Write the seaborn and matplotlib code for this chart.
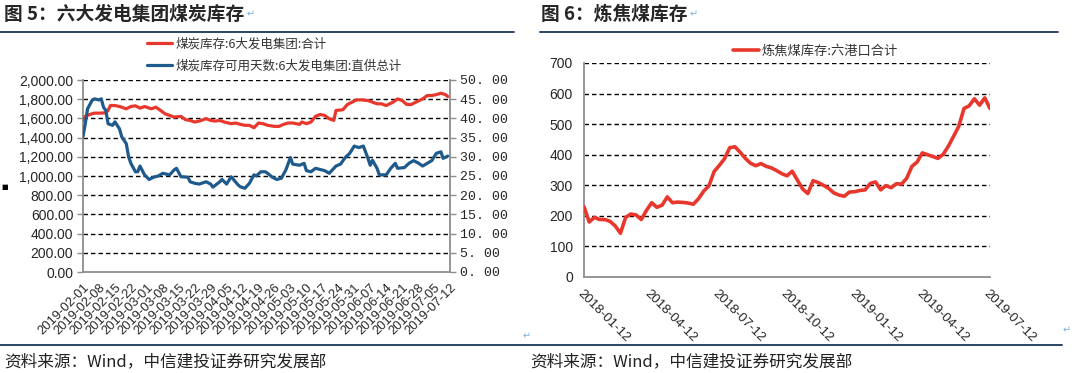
import numpy as np
import pandas as pd
import matplotlib
matplotlib.use("Agg")
import matplotlib.pyplot as plt
from matplotlib.lines import Line2D
import seaborn as sns

# ---------------- data ----------------
# Figure 5: six power groups, coal stock (10k t, left) and available days (right)
coal_start = "2019-02-01"
coal_end = "2019-07-12"
coal_day = [0, 1, 3, 5, 8, 10, 11, 12, 14, 16, 19, 21, 23, 25, 27, 30, 32, 34, 36, 38,
            40, 43, 45, 47, 49, 51, 54, 56, 58, 60, 62, 65, 67, 69, 71, 73, 75, 77, 79, 81,
            84, 86, 88, 90, 92, 95, 96, 98, 100, 102, 104, 106, 108, 110, 111, 114, 116, 118, 120, 122,
            125, 127, 129, 131, 133, 136, 138, 140, 142, 144, 146, 149, 151, 153, 155, 157, 159, 160]
coal_stock = [1579, 1621, 1641, 1655, 1655, 1659, 1683, 1734, 1734, 1724,
              1700, 1724, 1731, 1707, 1724, 1700, 1717, 1683, 1648, 1631,
              1614, 1621, 1586, 1579, 1562, 1572, 1597, 1579, 1572, 1579,
              1562, 1545, 1552, 1538, 1528, 1528, 1503, 1552, 1545, 1528,
              1517, 1517, 1538, 1552, 1552, 1538, 1562, 1545, 1562, 1621,
              1641, 1631, 1597, 1579, 1683, 1690, 1745, 1769, 1793, 1793,
              1786, 1769, 1752, 1752, 1734, 1769, 1803, 1786, 1745, 1745,
              1769, 1803, 1838, 1838, 1848, 1862, 1848, 1828]
days_day = [0, 1, 2, 4, 5, 7, 8, 9, 10, 11, 13, 14, 16, 17, 19, 20, 21, 23, 24, 25,
            27, 29, 31, 33, 35, 38, 40, 41, 43, 46, 47, 49, 51, 54, 56, 57, 60, 61, 63, 65,
            68, 69, 71, 73, 75, 76, 78, 80, 81, 83, 85, 87, 89, 91, 92, 95, 97, 98, 100, 102,
            104, 106, 108, 111, 113, 115, 117, 119, 121, 123, 125, 126, 127, 129, 130, 133, 135, 137, 138, 141,
            143, 145, 147, 149, 151, 153, 155, 157, 158, 160]
days_avail = [35.3, 38.6, 42.5, 44.7, 45.1, 44.8, 45.1, 42.9, 42.1, 38.6, 38.2, 39.1, 37.3, 35.2, 33.4, 30.0, 28.3, 26.1, 26.1, 27.6,
              25.3, 24.1, 24.7, 25.0, 25.7, 25.3, 26.6, 27.0, 24.8, 24.7, 23.5, 23.1, 22.9, 23.5, 22.9, 22.1, 23.5, 24.1, 22.9, 24.8,
              22.7, 22.2, 21.8, 23.1, 25.3, 25.0, 26.1, 26.1, 25.7, 24.7, 24.1, 24.4, 26.6, 29.8, 28.1, 27.8, 28.3, 26.4, 26.1, 27.0,
              26.7, 26.4, 25.7, 27.6, 28.1, 29.8, 30.9, 32.8, 32.4, 32.8, 29.6, 27.8, 29.1, 27.0, 25.3, 25.3, 27.0, 28.3, 27.0, 27.2,
              28.3, 29.0, 28.4, 27.6, 28.3, 29.0, 30.9, 31.3, 29.6, 30.2]
coal_label = "煤炭库存:6大发电集团:合计"
days_label = "煤炭库存可用天数:6大发电集团:直供总计"
coal_yticks = [0, 200, 400, 600, 800, 1000, 1200, 1400, 1600, 1800, 2000]
days_yticks = [0, 5, 10, 15, 20, 25, 30, 35, 40, 45, 50]

# Figure 6: coking coal stock at six ports (weekly)
coking_start = "2018-01-12"
coking_stock = [230, 180, 195, 188, 188, 182, 167, 143, 195, 206,
                203, 188, 218, 243, 228, 235, 262, 243, 245, 244,
                242, 238, 256, 281, 298, 345, 365, 387, 423, 426,
                408, 388, 372, 364, 371, 362, 357, 348, 338, 331,
                346, 317, 288, 273, 315, 309, 300, 290, 275, 268,
                264, 278, 279, 283, 285, 306, 311, 285, 299, 292,
                305, 304, 323, 362, 376, 406, 400, 394, 388, 401,
                428, 460, 493, 551, 560, 583, 562, 586, 551]
coking_label = "炼焦煤库存:六港口合计"
coking_xticks = ["2018-01-12", "2018-04-12", "2018-07-12", "2018-10-12",
                 "2019-01-12", "2019-04-12", "2019-07-12"]
coking_yticks = [0, 100, 200, 300, 400, 500, 600, 700]

title5 = "图 5：六大发电集团煤炭库存"
title6 = "图 6：炼焦煤库存"
source = "资料来源：Wind，中信建投证券研究发展部"

# ---------------- style ----------------
sns.set_style("white")
plt.rcParams["font.family"] = ["Liberation Sans", "Noto Sans CJK SC", "DejaVu Sans"]
RED = "#E8372C"
BLUE = "#1F5A8C"
GRAY = "#8E8E8E"
RULE = "#2B4563"
ARROW = "#7FB2E0"
CJK = ["Noto Sans CJK SC", "DejaVu Sans"]

W, H = 1080, 373
fig = plt.figure(figsize=(W / 100, H / 100), dpi=100)


def fx(px):
    return px / W


def fy(py):
    return 1 - py / H


def style_grid(ax, ticks):
    for t in ticks[1:]:
        ax.axhline(t, color="black", lw=1.0, ls=(0, (3.2, 2.2)), zorder=0.5)


# ---------------- left chart ----------------
ax1 = fig.add_axes([fx(83), fy(272), fx(450) - fx(83), fy(80) - fy(272)])
ax1b = ax1.twinx()

df_coal = pd.DataFrame({"date": pd.Timestamp(coal_start) + pd.to_timedelta(coal_day, unit="D"),
                        "value": coal_stock})
df_days = pd.DataFrame({"date": pd.Timestamp(coal_start) + pd.to_timedelta(days_day, unit="D"),
                        "value": days_avail})
sns.lineplot(data=df_coal, x="date", y="value", ax=ax1, color=RED, lw=2.3, zorder=3)
sns.lineplot(data=df_days, x="date", y="value", ax=ax1b, color=BLUE, lw=2.3, zorder=3)

ax1.set_xlim(pd.Timestamp(coal_start), pd.Timestamp(coal_end))
ax1.set_ylim(0, 2000)
ax1b.set_ylim(0, 50)
style_grid(ax1, coal_yticks)
ax1.set_yticks(coal_yticks)
ax1.set_yticklabels([f"{v:,.2f}" for v in coal_yticks], fontsize=10)
ax1b.set_yticks(days_yticks)
ax1b.set_yticklabels([f"{v:.2f}".replace(".", ". ") for v in days_yticks],
                     fontsize=9.5, family="Liberation Mono")
xt = pd.date_range(coal_start, coal_end, freq="7D")
ax1.set_xticks(xt)
ax1.set_xticklabels([d.strftime("%Y-%m-%d") for d in xt], rotation=45, ha="right",
                    rotation_mode="anchor", fontsize=9.3)
for a in (ax1, ax1b):
    a.set_xlabel("")
    a.set_ylabel("")
    for s in a.spines.values():
        s.set_color(GRAY)
        s.set_linewidth(1.3)
ax1.spines["top"].set_visible(False)
ax1.spines["right"].set_visible(False)
ax1b.spines["top"].set_visible(False)
ax1b.spines["left"].set_visible(False)
ax1b.spines["bottom"].set_visible(False)
ax1.tick_params(axis="both", direction="out", length=4, color=GRAY, width=1, pad=3)
ax1b.tick_params(axis="y", direction="out", length=4, color=GRAY, width=1, pad=3)
ax1b.grid(False)
ax1.grid(False)

h = [Line2D([], [], color=RED, lw=2.3), Line2D([], [], color=BLUE, lw=2.3)]
leg = ax1b.legend(h, [coal_label, days_label], loc="upper left",
                  bbox_to_anchor=(fx(141), fy(31)), bbox_transform=fig.transFigure,
                  frameon=False, handlelength=2.0, handletextpad=0.3, labelspacing=0.75,
                  borderpad=0, prop={"family": CJK, "size": 9})
for t in leg.get_texts():
    t.set_color("#333333")

# ---------------- right chart ----------------
ax2 = fig.add_axes([fx(584), fy(277), fx(990) - fx(584), fy(63) - fy(277)])
df_cok = pd.DataFrame({"date": pd.date_range(coking_start, periods=len(coking_stock), freq="7D"),
                       "value": coking_stock})
sns.lineplot(data=df_cok, x="date", y="value", ax=ax2, color=RED, lw=2.6, zorder=3)
ax2.set_xlim(pd.Timestamp(coking_xticks[0]), pd.Timestamp(coking_xticks[-1]))
ax2.set_ylim(0, 700)
style_grid(ax2, coking_yticks)
ax2.set_yticks(coking_yticks)
ax2.set_yticklabels([str(v) for v in coking_yticks], fontsize=10)
ax2.set_xticks(pd.to_datetime(coking_xticks))
ax2.set_xticklabels(coking_xticks, rotation=-45, ha="left", rotation_mode="anchor", fontsize=9.5)
ax2.set_xlabel("")
ax2.set_ylabel("")
ax2.grid(False)
for s in ax2.spines.values():
    s.set_color(GRAY)
    s.set_linewidth(1.3)
ax2.spines["top"].set_visible(False)
ax2.spines["right"].set_visible(False)
ax2.tick_params(axis="both", direction="out", length=4, color=GRAY, width=1, pad=4)
leg2 = ax2.legend([Line2D([], [], color=RED, lw=2.6)], [coking_label], loc="center left",
                  bbox_to_anchor=(fx(726), fy(51)), bbox_transform=fig.transFigure,
                  frameon=False, handlelength=2.0, handletextpad=0.2, borderpad=0,
                  prop={"family": CJK, "size": 9.5})
for t in leg2.get_texts():
    t.set_color("#333333")

# ---------------- page decorations ----------------
fig.text(fx(4), fy(14), title5, fontsize=13.5, fontweight="bold", family=CJK, va="center", ha="left")
fig.text(fx(541), fy(14), title6, fontsize=13.5, fontweight="bold", family=CJK, va="center", ha="left")
fig.text(fx(247), fy(14), "↵", fontsize=7, color=ARROW, va="center", family="DejaVu Sans")
fig.text(fx(690), fy(14), "↵", fontsize=7, color=ARROW, va="center", family="DejaVu Sans")
fig.add_artist(Line2D([0, fx(514)], [fy(32), fy(32)], color=RULE, lw=1.4))
fig.add_artist(Line2D([fx(540), fx(1058)], [fy(32), fy(32)], color=RULE, lw=1.4))
fig.add_artist(Line2D([0, fx(1062)], [fy(345), fy(345)], color=RULE, lw=1.4))
fig.text(fx(4), fy(362), source, fontsize=12, style="italic", family=CJK, va="center", color="#222222")
fig.text(fx(530), fy(362), source, fontsize=12, style="italic", family=CJK, va="center", color="#222222")
fig.text(fx(1), fy(187), "■", fontsize=5, va="center", family="DejaVu Sans", color="black")
fig.text(fx(523), fy(336), "↵", fontsize=7, color=ARROW, va="center", family="DejaVu Sans")
fig.text(fx(1063), fy(330), "↵", fontsize=7, color=ARROW, va="center", family="DejaVu Sans")

fig.savefig("out.png", dpi=100)
